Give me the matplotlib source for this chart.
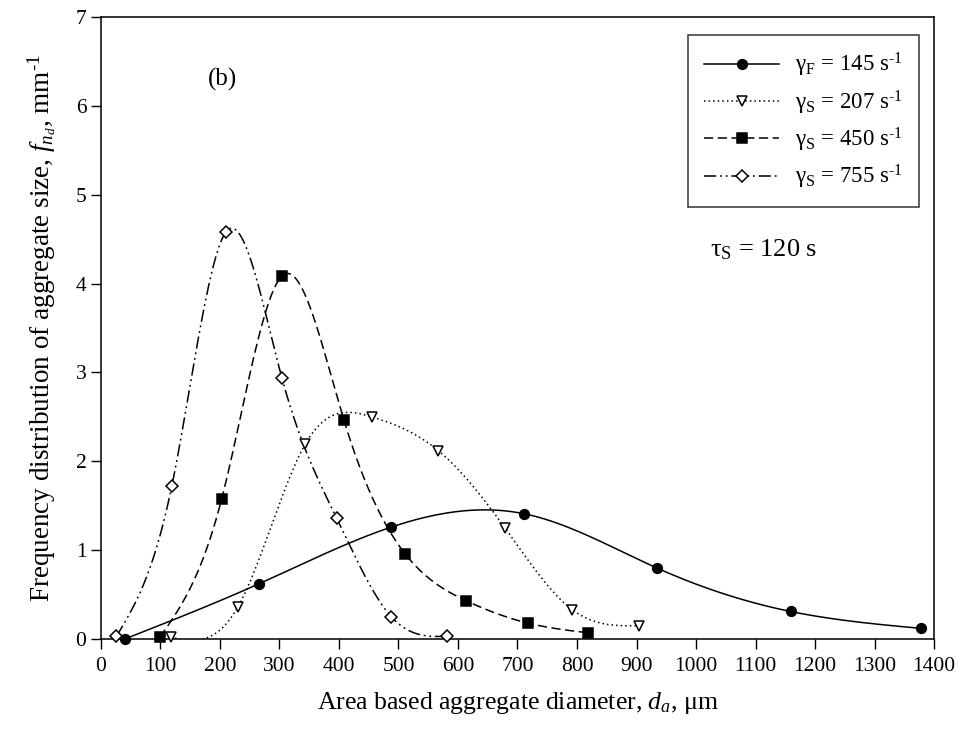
import numpy as np
import matplotlib
matplotlib.use("Agg")
import matplotlib.pyplot as plt

plt.rcParams['font.family'] = ['Liberation Serif', 'DejaVu Serif']
plt.rcParams['mathtext.fontset'] = 'custom'
plt.rcParams['mathtext.rm'] = 'Liberation Serif'
plt.rcParams['mathtext.it'] = 'Liberation Serif:italic'

# data (d_a in um, f_nd in mm^-1)
x_145 = [40, 265, 488, 711, 934, 1159, 1378]
y_145 = [0.0, 0.62, 1.26, 1.41, 0.80, 0.31, 0.12]

x_207 = [117, 230, 343, 455, 567, 679, 792, 905]
y_207 = [0.02, 0.36, 2.19, 2.50, 2.12, 1.25, 0.33, 0.15]

x_450 = [99, 203, 305, 408, 511, 614, 717, 819]
y_450 = [0.02, 1.58, 4.09, 2.47, 0.96, 0.43, 0.18, 0.07]

x_755 = [26, 119, 210, 304, 396, 488, 581]
y_755 = [0.03, 1.72, 4.58, 2.94, 1.36, 0.25, 0.03]

labels = [r'γ$_\mathrm{F}$ = 145 s$^{\text{-}1}$', r'γ$_\mathrm{S}$ = 207 s$^{\text{-}1}$',
          r'γ$_\mathrm{S}$ = 450 s$^{\text{-}1}$', r'γ$_\mathrm{S}$ = 755 s$^{\text{-}1}$']


def natural_spline(x, y, n=400):
    x = np.asarray(x, float)
    y = np.asarray(y, float)
    m = len(x)
    h = np.diff(x)
    A = np.zeros((m, m))
    r = np.zeros(m)
    A[0, 0] = 1
    A[-1, -1] = 1
    for i in range(1, m - 1):
        A[i, i - 1] = h[i - 1]
        A[i, i] = 2 * (h[i - 1] + h[i])
        A[i, i + 1] = h[i]
        r[i] = 3 * ((y[i + 1] - y[i]) / h[i] - (y[i] - y[i - 1]) / h[i - 1])
    c = np.linalg.solve(A, r)
    b = (y[1:] - y[:-1]) / h - h * (2 * c[:-1] + c[1:]) / 3
    d = (c[1:] - c[:-1]) / (3 * h)
    xs = np.linspace(x[0], x[-1], n)
    k = np.clip(np.searchsorted(x, xs) - 1, 0, m - 2)
    t = xs - x[k]
    ys = y[k] + b[k] * t + c[k] * t ** 2 + d[k] * t ** 3
    return xs, ys


fig = plt.figure(figsize=(9.68, 7.33), dpi=100)
ax = fig.add_axes([0.1043, 0.1282, 0.8606, 0.8486])

series = [
    (x_145, y_145, '-', 'o', 'black'),
    (x_207, y_207, (0, (1, 2.0)), 'v', 'white'),
    (x_450, y_450, (0, (6, 3)), 's', 'black'),
    (x_755, y_755, (0, (8, 2.5, 1.2, 2.5, 1.2, 2.5)), 'D', 'white'),
]
ms = {'o': 7, 'v': 7.5, 's': 6.5, 'D': 6}
handles = []
for (xd, yd, ls, mk, fc), lab in zip(series, labels):
    xs, ys = natural_spline(xd, yd)
    ax.plot(xs, ys, color='black', lw=1.1, linestyle=ls)
    ax.plot(xd, yd, linestyle='none', marker=mk, ms=ms[mk], mfc=fc,
            mec='black', mew=1.1, zorder=3, clip_on=False)
    h, = ax.plot([], [], color='black', lw=1.1, linestyle=ls, marker=mk,
                 ms=ms[mk], mfc=fc, mec='black', mew=1.1)
    handles.append(h)

ax.set_xlim(0, 1400)
ax.set_ylim(0, 7)
ax.set_xticks(np.arange(0, 1401, 100))
ax.set_yticks(np.arange(0, 8, 1))
ax.tick_params(direction='out', length=7, width=1, labelsize=15.5,
               top=False, right=False)
ax.tick_params(axis='x', pad=6)
for s in ax.spines.values():
    s.set_linewidth(1.1)

ax.set_xlabel(r'Area based aggregate diameter, $d_a$, μm', fontsize=18.5, labelpad=10)
ax.set_ylabel(r'Frequency distribution of aggregate size, $f_{n_d}$, mm$^{\text{-}1}$',
              fontsize=19.5, labelpad=12)

ax.text(205, 6.3, '(b)', fontsize=18, ha='center', va='center')
ax.text(1114, 4.38, r'τ$_\mathrm{S}$ = 120 s', fontsize=19, ha='center', va='center')

leg = ax.legend(handles, labels, loc='upper right', bbox_to_anchor=(0.982, 0.971),
                borderaxespad=0, fontsize=16.5, frameon=True, fancybox=False,
                edgecolor='black', handlelength=3.3, handletextpad=0.7,
                borderpad=0.7, labelspacing=0.4, numpoints=1)
leg.get_frame().set_linewidth(1.1)

fig.savefig('out.png', dpi=100)
